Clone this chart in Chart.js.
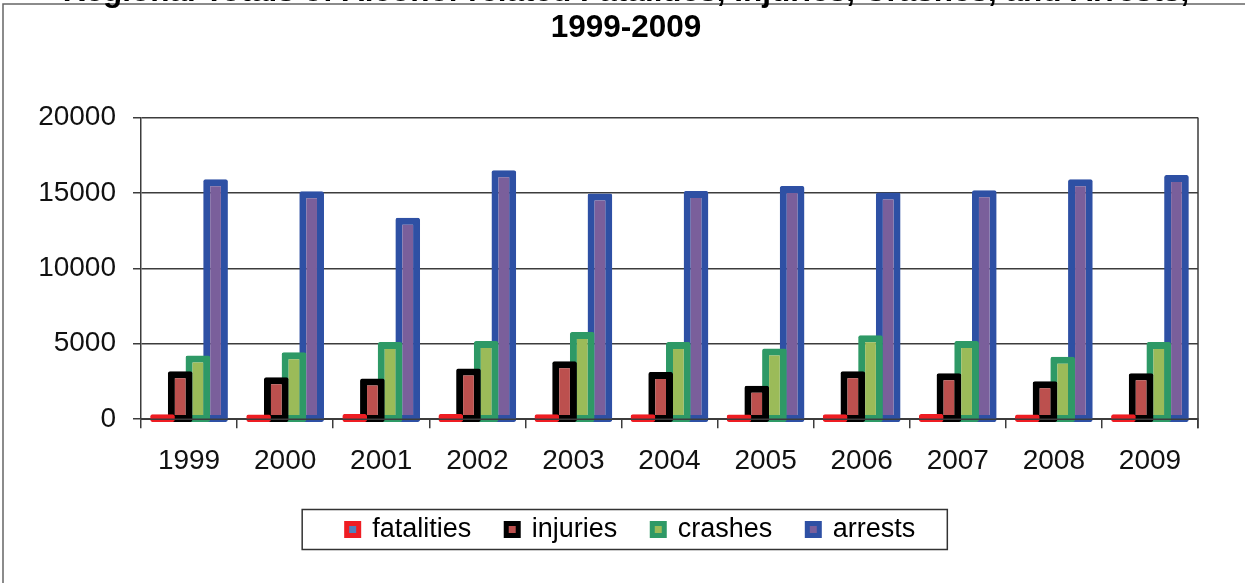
<!DOCTYPE html>
<html>
<head>
<meta charset="utf-8">
<script src="https://cdn.jsdelivr.net/npm/chart.js@4.4.1/dist/chart.umd.min.js"></script>
<style>
  html, body { margin: 0; padding: 0; background: #fff; overflow: hidden; }
  #chart { display: block; margin-top: -40px; }
</style>
</head>
<body>
<canvas id="chart" width="1245" height="623"></canvas>
<script>
// values
const years = ['1999', '2000', '2001', '2002', '2003', '2004', '2005', '2006', '2007', '2008', '2009']
const fatalities = [90, 85, 110, 105, 100, 95, 80, 100, 105, 85, 90]
const injuries = [2950, 2550, 2460, 3130, 3610, 2900, 1990, 2950, 2810, 2280, 2810]
const crashes = [3990, 4210, 4880, 4950, 5550, 4880, 4460, 5330, 4950, 3900, 4880]
const arrests = [15680, 14880, 13130, 16280, 14730, 14900, 15230, 14790, 14950, 15680, 15950]
const yTicks = [0, 5000, 10000, 15000, 20000]

const titleLines = ['Regional Totals of Alcohol-related Fatalities, Injuries, Crashes, and Arrests,', '1999-2009']
const FONT = '"Liberation Sans", Arial, sans-serif'
const OFF = 40   // canvas is pulled up so the first title line is cut off
const lineCol = '#3c3c3c'
const BW = 7     // bar outline width

const makeSet = (label, data, border, fill) => ({
  label: label,
  data: data,
  borderColor: border,
  backgroundColor: fill,
  borderWidth: BW,
  borderSkipped: false,
  borderRadius: 2,
  minBarLength: 1,
  clip: false,
  categoryPercentage: 0.736,
  barPercentage: 1.395
})

const frameAndLines = {
  id: 'frameAndLines',
  afterLayout(chart) {
    // title and legend are centred on the whole frame, not only on the plot
    const t = chart.titleBlock
    if (t) { t.left += 27; t.right += 27 }
    const l = chart.legend
    if (l) { l.left += 32; l.right += 32 }
  },
  afterDatasetsUpdate(chart) {
    // the outline sits on the bar edge (half outside), like the original
    chart.data.datasets.forEach((ds, i) => {
      chart.getDatasetMeta(i).data.forEach(bar => {
        bar.y -= BW / 2
        bar.base += BW / 2
      })
    })
  },
  beforeDraw(chart) {
    const ctx = chart.ctx
    ctx.save()
    ctx.strokeStyle = '#666'
    ctx.lineWidth = 1.5
    ctx.strokeRect(3, 4 + OFF, 2000, 2000)
    ctx.restore()
  },
  afterDatasetsDraw(chart) {
    const { ctx, chartArea } = chart
    ctx.save()
    ctx.strokeStyle = lineCol
    ctx.lineWidth = 1.5
    ctx.beginPath()
    ctx.moveTo(chartArea.left, chartArea.bottom)
    ctx.lineTo(chartArea.right, chartArea.bottom)
    ctx.moveTo(chartArea.right, chartArea.top)
    ctx.lineTo(chartArea.right, chartArea.bottom + 9)
    ctx.stroke()
    ctx.restore()
  },
  afterDraw(chart) {
    const boxes = chart.legend.legendHitBoxes
    if (!boxes || !boxes.length) return
    const first = boxes[0]
    const last = boxes[boxes.length - 1]
    const cy = first.top + first.height / 2
    const ctx = chart.ctx
    ctx.save()
    ctx.strokeStyle = '#333'
    ctx.lineWidth = 1.5
    ctx.strokeRect(first.left - 44.5, cy - 20, last.left + last.width + 32 - (first.left - 44.5), 40)
    ctx.restore()
  }
}

const config = {
  type: 'bar',
  data: {
    labels: years,
    datasets: [
      makeSet('fatalities', fatalities, '#EE1D23', '#4F81BD'),
      makeSet('injuries', injuries, '#000000', '#BC504E'),
      makeSet('crashes', crashes, '#2E9966', '#9BBB59'),
      makeSet('arrests', arrests, '#2E50A4', '#7A5F9B')
    ]
  },
  options: {
    responsive: false,
    animation: false,
    devicePixelRatio: 1,
    layout: { padding: { left: 0, right: 47, top: 0, bottom: 30 } },
    plugins: {
      tooltip: { enabled: false },
      title: {
        display: true,
        text: titleLines,
        color: '#000',
        font: { family: FONT, size: 31.5, weight: 'bold', lineHeight: 1.14 },
        padding: { top: 14.5, bottom: 71.2 }
      },
      legend: {
        position: 'bottom',
        labels: {
          color: '#111',
          font: { family: FONT, size: 27 },
          boxWidth: 12,
          boxHeight: 12,
          padding: 35,
          useBorderRadius: true,
          borderRadius: 3,
          generateLabels(chart) {
            return chart.data.datasets.map((ds, i) => ({
              text: ds.label,
              fillStyle: ds.backgroundColor,
              strokeStyle: ds.borderColor,
              lineWidth: 5,
              datasetIndex: i,
              hidden: false
            }))
          }
        }
      }
    },
    scales: {
      x: {
        grid: { display: true, drawOnChartArea: false, drawTicks: true, tickLength: 9, color: lineCol, lineWidth: 1.5 },
        border: { display: true, color: lineCol, width: 1.5 },
        ticks: { color: '#111', font: { family: FONT, size: 28 }, padding: 16.5, maxRotation: 0 },
        afterFit(scale) { scale.height = 61.8 }
      },
      y: {
        min: yTicks[0],
        max: yTicks[yTicks.length - 1],
        grid: { color: lineCol, lineWidth: 1.5, tickLength: 8 },
        border: { display: true, color: lineCol, width: 1.5 },
        ticks: {
          stepSize: yTicks[1] - yTicks[0],
          color: '#111',
          font: { family: FONT, size: 28 },
          padding: 17,
          callback: v => String(v)
        },
        afterFit(scale) { scale.width = 141 }
      }
    }
  },
  plugins: [frameAndLines]
}

const myChart = new Chart(document.getElementById('chart'), config)
</script>
</body>
</html>
